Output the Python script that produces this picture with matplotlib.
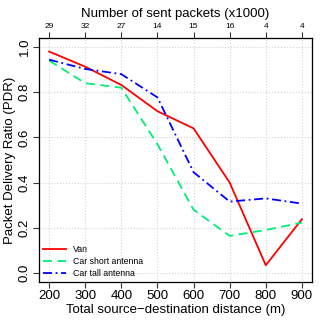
import matplotlib
matplotlib.use("Agg")
import matplotlib.pyplot as plt

distance = [200, 300, 400, 500, 600, 700, 800, 900]
sent_packets = ["29", "32", "27", "14", "15", "16", "4", "4"]
van = [0.98, 0.913, 0.832, 0.716, 0.64, 0.40, 0.034, 0.238]
car_short = [0.94, 0.84, 0.82, 0.57, 0.28, 0.164, 0.19, 0.223]
car_tall = [0.944, 0.903, 0.88, 0.777, 0.446, 0.316, 0.33, 0.307]

plt.rcParams['font.family'] = ['Liberation Sans', 'DejaVu Sans']

fig = plt.figure(figsize=(3.32, 3.32), dpi=100)
ax = fig.add_axes([39/332, 1-282/332, (312-39)/332, (282-38)/332])

ax.plot(distance, van, color='#FF0000', lw=1.3, ls='-', label='Van')
ax.plot(distance, car_short, color='#00EE76', lw=1.3, ls=(0, (5, 3)), label='Car short antenna')
ax.plot(distance, car_tall, color='#0000FF', lw=1.3, ls=(0, (5, 2, 1, 2)), label='Car tall antenna')

ax.set_xlim(172, 928)
ax.set_ylim(-0.04, 1.04)
ax.set_xticks(distance)
ax.set_yticks([0.0, 0.2, 0.4, 0.6, 0.8, 1.0])
ax.set_yticklabels(['0.0', '0.2', '0.4', '0.6', '0.8', '1.0'], rotation=90, va='center')
ax.grid(True, color='#D3D3D3', ls=':', lw=0.8)
ax.tick_params(axis='both', labelsize=9.5, length=4, color='#333333', direction='out', pad=2)
for s in ax.spines.values():
    s.set_color('#555555')
    s.set_linewidth(0.9)
ax.set_xlabel('Total source\u2212destination distance (m)', fontsize=9.5, labelpad=1)
ax.set_ylabel('Packet Delivery Ratio (PDR)', fontsize=9.5, labelpad=2)

ax2 = ax.twiny()
ax2.set_xlim(ax.get_xlim())
ax2.set_xticks(distance)
ax2.set_xticklabels(sent_packets)
ax2.tick_params(axis='x', labelsize=6, length=4, color='#333333', pad=2)
ax2.set_xlabel('Number of sent packets (x1000)', fontsize=9.5, labelpad=4)

ax.legend(loc='lower left', frameon=False, fontsize=6.3, handlelength=2.6,
          borderaxespad=0.3, labelspacing=0.3, borderpad=0.2, handletextpad=0.8)

fig.savefig('out.png', dpi=100)
